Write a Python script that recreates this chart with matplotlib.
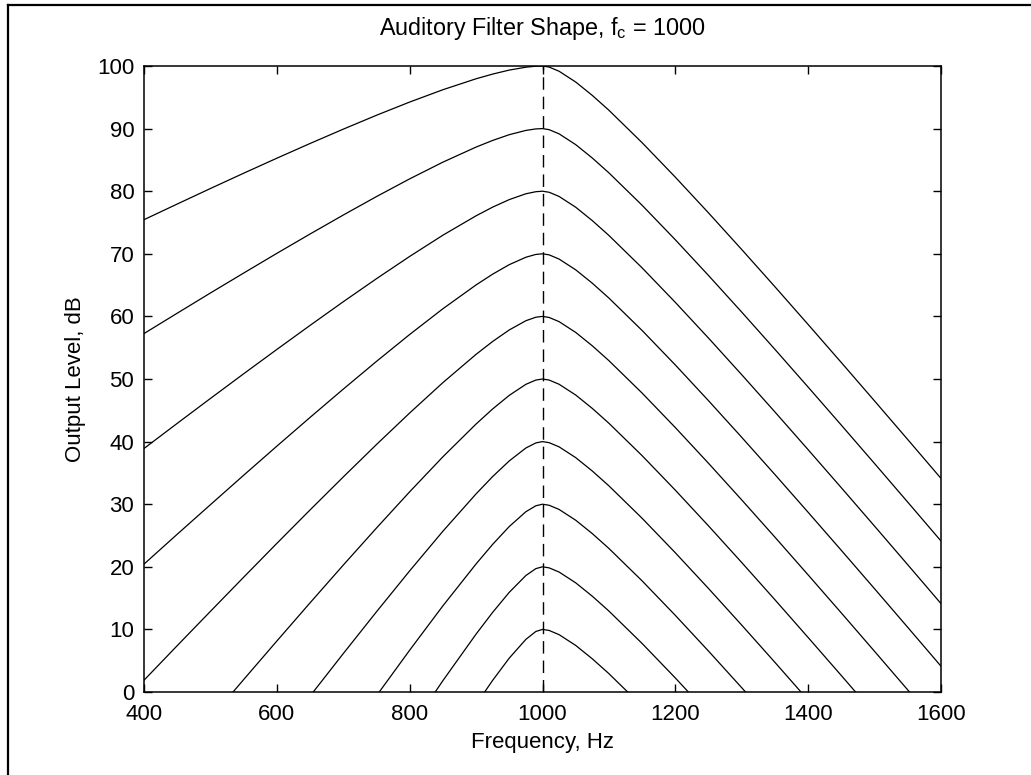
import numpy as np
import matplotlib
matplotlib.use("Agg")
import matplotlib.pyplot as plt
from matplotlib.lines import Line2D

plt.rcParams["font.family"] = ["Liberation Sans", "DejaVu Sans"]
plt.rcParams["mathtext.fontset"] = "custom"
plt.rcParams["mathtext.rm"] = "Liberation Sans"

nan = np.nan

# frequency grid (Hz) the curves were read at
freq = [400, 450, 500, 550, 600, 650, 700, 750, 800, 850, 900, 925, 950, 975, 990,
        1000, 1010, 1025, 1050, 1075, 1100, 1150, 1200, 1250, 1300, 1350, 1400,
        1450, 1500, 1550, 1600]

# output level (dB) for each input level
level_100 = [75.45, 77.95, 80.43, 82.87, 85.27, 87.62, 89.91, 92.13, 94.24, 96.21, 97.96,
             98.71, 99.35, 99.81, 99.97, 100, 99.83, 99.16, 97.44, 95.30, 92.93, 87.75,
             82.24, 76.53, 70.68, 64.73, 58.70, 52.62, 46.49, 40.32, 34.12]
level_90 = [57.26, 60.51, 63.74, 66.92, 70.07, 73.16, 76.19, 79.14, 81.97, 84.64, 87.05,
            88.11, 89.03, 89.71, 89.95, 90, 89.83, 89.16, 87.44, 85.30, 82.93, 77.75,
            72.24, 66.53, 60.68, 54.73, 48.70, 42.62, 36.49, 30.32, 24.12]
level_80 = [38.90, 42.91, 46.89, 50.83, 54.72, 58.56, 62.34, 66.02, 69.58, 72.97, 76.07,
            77.46, 78.66, 79.59, 79.92, 80, 79.83, 79.16, 77.44, 75.30, 72.93, 67.75,
            62.24, 56.53, 50.68, 44.73, 38.70, 32.62, 26.49, 20.32, 14.12]
level_70 = [20.43, 25.20, 29.92, 34.62, 39.27, 43.86, 48.38, 52.81, 57.11, 61.22, 65.03,
            66.75, 68.27, 69.45, 69.90, 70, 69.83, 69.16, 67.44, 65.30, 62.93, 57.75,
            52.24, 46.53, 40.68, 34.73, 28.70, 22.62, 16.49, 10.32, 4.12]
level_60 = [1.88, 7.40, 12.88, 18.33, 23.74, 29.08, 34.35, 39.53, 44.57, 49.42, 53.94,
            56.00, 57.84, 59.31, 59.87, 60, 59.83, 59.16, 57.44, 55.30, 52.93, 47.75,
            42.24, 36.53, 30.68, 24.73, 18.70, 12.62, 6.49, 0.32, -5.88]
level_50 = [nan, nan, -4.22, 1.98, 8.14, 14.24, 20.27, 26.19, 31.98, 37.57, 42.81,
            45.22, 47.39, 49.15, 49.83, 50, 49.83, 49.16, 47.44, 45.30, 42.93, 37.75,
            32.24, 26.53, 20.68, 14.73, 8.70, 2.62, -3.51, nan, nan]
level_40 = [nan, nan, nan, nan, nan, -0.65, 6.13, 12.81, 19.35, 25.68, 31.65,
            34.42, 36.92, 38.98, 39.79, 40, 39.83, 39.16, 37.44, 35.30, 32.93, 27.75,
            22.24, 16.53, 10.68, 4.73, -1.30, nan, nan, nan, nan]
level_30 = [nan, nan, nan, nan, nan, nan, nan, -0.61, 6.68, 13.76, 20.46,
            23.59, 26.44, 28.80, 29.75, 30, 29.83, 29.16, 27.44, 25.30, 22.93, 17.75,
            12.24, 6.53, 0.68, -5.27, nan, nan, nan, nan, nan]
level_20 = [nan, nan, nan, nan, nan, nan, nan, nan, -6.01, 1.81, 9.25,
            12.73, 15.93, 18.61, 19.71, 20, 19.83, 19.16, 17.44, 15.30, 12.93, 7.75,
            2.24, -3.47, nan, nan, nan, nan, nan, nan, nan]
level_10 = [nan, nan, nan, nan, nan, nan, nan, nan, nan, nan, -1.98,
            1.87, 5.42, 8.41, 9.67, 10, 9.83, 9.16, 7.44, 5.30, 2.93, -2.25,
            nan, nan, nan, nan, nan, nan, nan, nan, nan]

curves = [level_100, level_90, level_80, level_70, level_60,
          level_50, level_40, level_30, level_20, level_10]

fc = 1000
x_ticks = [400, 600, 800, 1000, 1200, 1400, 1600]
y_ticks = [0, 10, 20, 30, 40, 50, 60, 70, 80, 90, 100]

fig = plt.figure(figsize=(10.31, 7.75), dpi=100)
ax = fig.add_axes([144 / 1031, 83 / 775, 797 / 1031, 626 / 775])

for ys in curves:
    ax.plot(freq, ys, color="black", lw=0.9)

ax.plot([fc, fc], [0, 100], color="black", lw=1.0, dashes=(9, 5))

ax.set_xlim(400, 1600)
ax.set_ylim(0, 100)
ax.set_xticks(x_ticks)
ax.set_yticks(y_ticks)

ax.tick_params(direction="in", length=5.5, width=1.0, top=True, right=True,
               labelsize=16)
ax.tick_params(axis="y", pad=7)
ax.tick_params(axis="x", pad=8.5)
for s in ax.spines.values():
    s.set_linewidth(1.1)

ax.set_title(r"Auditory Filter Shape, f$_\mathregular{c}$ = 1000", fontsize=16.8, pad=22)
ax.set_xlabel("Frequency, Hz", fontsize=16, labelpad=5)
ax.set_ylabel("Output Level, dB", fontsize=16, labelpad=8)

# screenshot frame (top and left edges only)
fig.add_artist(Line2D([8 / 1031, 1], [1 - 5 / 775, 1 - 5 / 775], color="black", lw=1.6))
fig.add_artist(Line2D([8 / 1031, 8 / 1031], [0, 1 - 5 / 775], color="black", lw=1.6))

fig.savefig("out.png", dpi=100)
